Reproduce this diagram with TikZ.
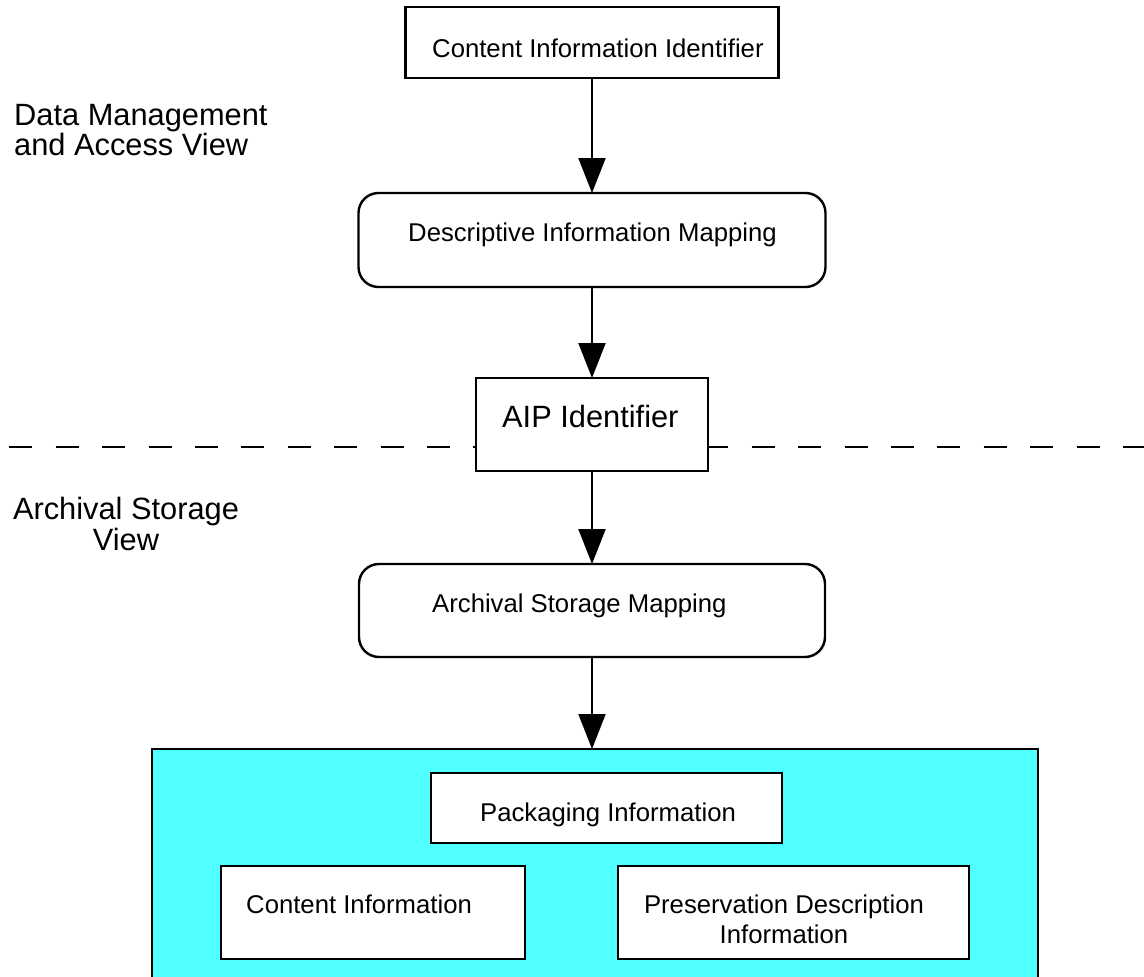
\documentclass[tikz,border=0pt]{standalone}
\usepackage{fontspec}
\setmainfont{Liberation Sans}
\usetikzlibrary{arrows.meta}
\definecolor{aipcyan}{RGB}{80,255,255}
\tikzset{
  rectbox/.style={draw=black, line width=2.4pt, fill=white, inner sep=0pt, outer sep=0pt},
  roundbox/.style={rectbox, rounded corners=20pt},
  cyanbox/.style={draw=black, line width=2.4pt, fill=aipcyan, inner sep=0pt, outer sep=0pt},
  arrowline/.style={draw=black, line width=2pt, -{Triangle[length=35pt,width=27pt]}},
  divider/.style={draw=black, line width=2.4pt, dash pattern=on 23pt off 23.4pt},
  smalltxt/.style={inner sep=0pt, anchor=base west, font={\fontsize{25.7pt}{30pt}\selectfont}},
  bigtxt/.style={inner sep=0pt, anchor=base west, font={\fontsize{30.8pt}{31pt}\selectfont}}
}
\begin{document}
\begin{tikzpicture}[x=1pt,y=-1pt]
\clip (0,0) rectangle (1144,977);
\fill[white] (0,0) rectangle (1144,977);
% divider
\coordinate (divL) at (9.3,447);
\coordinate (divR) at (1150,447);
\draw[divider] (divL) -- (divR);
% boxes
\node[rectbox, minimum width=373pt, minimum height=71pt] (cii) at (592,42.5) {};
\node[roundbox, minimum width=467pt, minimum height=94pt] (dim) at (592,240) {};
\node[rectbox, minimum width=232pt, minimum height=93pt] (aip) at (592,424.5) {};
\node[roundbox, minimum width=466pt, minimum height=93pt] (asm) at (592,610.5) {};
\node[cyanbox, minimum width=886pt, minimum height=260pt, anchor=north west] (aipbox) at (152,749) {};
\node[rectbox, minimum width=351pt, minimum height=70pt] (pkg) at (606.5,808) {};
\node[rectbox, minimum width=304pt, minimum height=93pt] (ci) at (373,912.5) {};
\node[rectbox, minimum width=351pt, minimum height=93pt] (pdi) at (793.5,912.5) {};
% arrows
\draw[arrowline] (cii.south) -- (dim.north);
\draw[arrowline] (dim.south) -- (aip.north);
\draw[arrowline] (aip.south) -- (asm.north);
\draw[arrowline] (asm.south) -- (asm.south |- aipbox.north);
% texts
\node[smalltxt] (ciit) at (432,57) {Content Information Identifier};
\node[smalltxt] (dimt) at (408,241) {Descriptive Information Mapping};
\node[bigtxt] (aipt) at (502,427) {AIP Identifier};
\node[smalltxt] (asmt) at (432,612) {Archival Storage Mapping};
\node[smalltxt] (pkgt) at (480,821) {Packaging Information};
\node[smalltxt] (cit) at (246,913) {Content Information};
\node[smalltxt, anchor=base] (pdi1) at (784,913) {Preservation Description};
\node[smalltxt, anchor=base] (pdi2) at (784,943) {Information};
\node[bigtxt] (dm1) at (14,125) {Data Management};
\node[bigtxt] (dm2) at (14,155) {and Access View};
\node[bigtxt, anchor=base] (as1) at (126,519) {Archival Storage};
\node[bigtxt, anchor=base] (as2) at (126,550) {View};
\end{tikzpicture}
\end{document}
